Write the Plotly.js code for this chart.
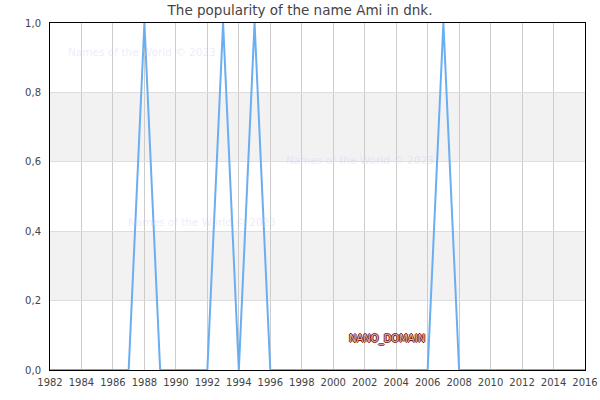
<!DOCTYPE html>
<html><head><meta charset="utf-8">
<script src="https://cdn.plot.ly/plotly-3.0.1.min.js"></script>
<style>body{margin:0;}#c{width:600px;height:400px;}</style>
</head><body><div id="c"></div>
<script>
var years = [];
for (var y = 1982; y <= 2016; y++) years.push(y);
var peakYears = [1988, 1993, 1995, 2007];
var values = [0,0,0,0,0,0,1,0,0,0,0,1,0,1,0,0,0,0,0,0,0,0,0,0,0,1,0,0,0,0,0,0,0,0,0];
var bands = [[0.2,0.4],[0.6,0.8]];
var tickVals = [1982,1984,1986,1988,1990,1992,1994,1996,1998,2000,2002,2004,2006,2008,2010,2012,2014,2016];

var shapes = bands.map(function(b){return {type:'rect',xref:'paper',yref:'y',x0:0,x1:1,y0:b[0],y1:b[1],fillcolor:'#f2f2f2',line:{width:0},layer:'below'};});
var wm = 'rgba(200,200,245,0.35)';
var layout = {
  width:600,height:400,
  margin:{l:50,r:15,t:23,b:30},
  separators:', ',
  paper_bgcolor:'#fff',plot_bgcolor:'#fff',
  font:{family:'DejaVu Sans',size:10,color:'#444'},
  title:{text:'The popularity of the name Ami in dnk.',x:0.5,xanchor:'center',y:0.985,yanchor:'top',font:{size:13.5,color:'#444'}},
  showlegend:false,
  xaxis:{range:[1982,2016],tickvals:tickVals,showgrid:true,gridcolor:'#cccccc',gridwidth:1,zeroline:false,showline:true,linecolor:'#000',linewidth:1,mirror:true,ticks:'',ticklabelstandoff:3,tickfont:{size:10,color:'#444'},fixedrange:true},
  yaxis:{range:[0,1],dtick:0.2,tickformat:'.1f',showgrid:true,gridcolor:'#dddddd',zeroline:false,showline:true,linecolor:'#000',linewidth:1,mirror:true,ticks:'',ticklabelstandoff:6,tickfont:{size:10,color:'#444'},fixedrange:true},
  shapes:shapes,
  annotations:[
    {text:'2023-10-05',xref:'paper',yref:'paper',x:-0.093,y:1.078,xanchor:'left',yanchor:'middle',showarrow:false,font:{size:10,color:'#bbb'}},
    {text:'Names of the World © 2023',xref:'paper',yref:'paper',x:0.03,y:0.915,xanchor:'left',yanchor:'middle',showarrow:false,font:{size:10.5,color:wm}},
    {text:'Names of the World © 2023',xref:'paper',yref:'paper',x:0.437,y:0.605,xanchor:'left',yanchor:'middle',showarrow:false,font:{size:10.5,color:wm}},
    {text:'Names of the World © 2023',xref:'paper',yref:'paper',x:0.142,y:0.427,xanchor:'left',yanchor:'middle',showarrow:false,font:{size:10.5,color:wm}},
    {text:'NANO_DOMAIN',xref:'paper',yref:'paper',x:0.63,y:0.09,xanchor:'center',yanchor:'middle',showarrow:false,font:{size:10,color:'#e8b4aa',shadow:'1px 0 0 #7a1a10, -1px 0 0 #7a1a10, 0 1px 0 #7a1a10, 0 -1px 0 #7a1a10'}}
  ]
};
var trace = {x:years,y:values,type:'scatter',mode:'lines',line:{color:'#6aaef2',width:2},hoverinfo:'x+y'};
Plotly.newPlot('c',[trace],layout,{displayModeBar:false,staticPlot:true});
</script></body></html>
